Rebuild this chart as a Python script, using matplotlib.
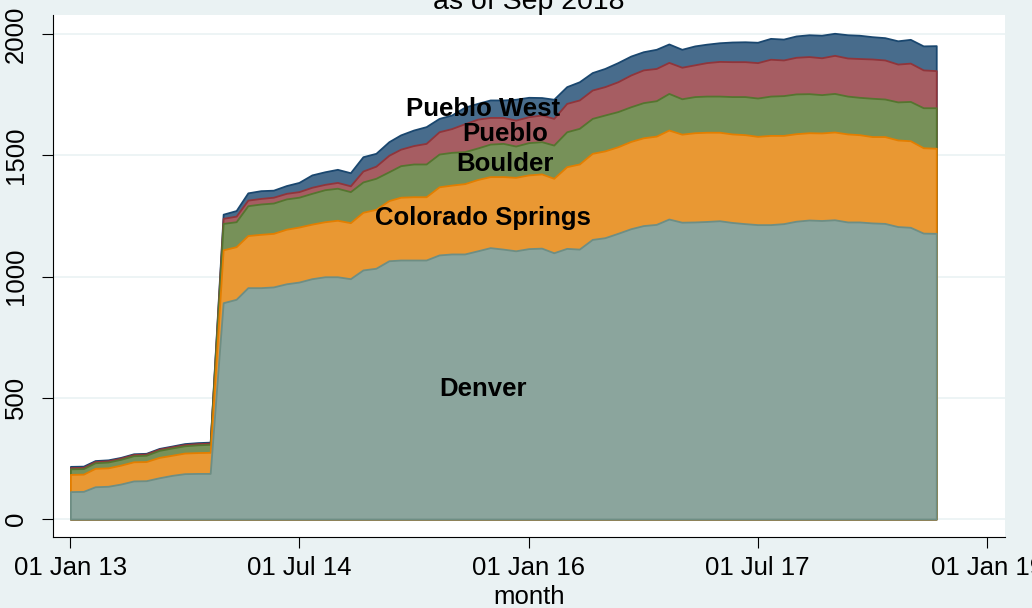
import numpy as np
import matplotlib
matplotlib.use("Agg")
import matplotlib.pyplot as plt
import matplotlib.dates as mdates
from datetime import datetime

# ---------------- data ----------------
start_year, start_month, n_months = 2013, 1, 69   # Jan 2013 .. Sep 2018
months = [datetime(start_year + (start_month - 1 + i) // 12, (start_month - 1 + i) % 12 + 1, 1)
          for i in range(n_months)]

denver = [113, 114, 133, 135, 144, 157, 158, 170, 180, 187, 188, 188,
          892, 906, 954, 954, 957, 970, 977, 991, 999, 999, 991, 1027,
          1034, 1065, 1068, 1068, 1068, 1089, 1093, 1093, 1106, 1119, 1113, 1106,
          1115, 1117, 1098, 1116, 1113, 1153, 1160, 1178, 1197, 1210, 1215, 1237,
          1224, 1225, 1227, 1230, 1223, 1218, 1214, 1214, 1218, 1228, 1233, 1231,
          1234, 1225, 1225, 1221, 1219, 1206, 1203, 1179, 1178]
colorado_springs = [71, 71, 76, 76, 78, 79, 79, 84, 83, 85, 86, 87,
                    218, 217, 215, 220, 221, 225, 227, 225, 227, 233, 231, 238,
                    243, 248, 259, 261, 261, 281, 284, 290, 294, 293, 299, 303,
                    304, 306, 307, 337, 351, 355, 358, 357, 360, 362, 364, 367,
                    363, 368, 368, 365, 365, 367, 364, 368, 364, 361, 360, 361,
                    362, 363, 360, 356, 358, 357, 357, 352, 351]
boulder = [23, 23, 23, 24, 24, 25, 26, 29, 30, 30, 32, 33,
           109, 103, 123, 125, 125, 125, 123, 127, 132, 132, 128, 125,
           128, 119, 130, 135, 135, 135, 135, 132, 130, 134, 137, 129,
           133, 133, 137, 144, 147, 144, 148, 145, 143, 145, 146, 151,
           146, 149, 149, 149, 154, 157, 158, 162, 164, 164, 161, 158,
           159, 156, 154, 158, 155, 157, 162, 165, 167]
pueblo = [5, 5, 5, 5, 5, 5, 5, 5, 5, 5, 5, 5,
          21, 23, 23, 23, 24, 23, 23, 25, 22, 24, 24, 45,
          50, 68, 68, 76, 85, 92, 98, 115, 119, 110, 107, 107,
          107, 110, 110, 117, 117, 117, 117, 123, 131, 135, 133, 128,
          130, 131, 138, 143, 144, 144, 146, 152, 147, 151, 153, 152,
          157, 157, 160, 162, 161, 156, 158, 156, 153]
pueblo_west = [5, 5, 4, 4, 3, 3, 3, 3, 3, 4, 4, 4,
               17, 23, 30, 32, 29, 32, 38, 51, 52, 54, 54, 59,
               53, 56, 59, 64, 69, 55, 56, 68, 65, 72, 72, 86,
               80, 72, 79, 69, 75, 72, 75, 79, 78, 75, 79, 76,
               74, 78, 76, 77, 81, 82, 84, 86, 86, 88, 90, 93,
               91, 96, 96, 92, 92, 96, 98, 99, 103]

series_names = ["Denver", "Colorado Springs", "Boulder", "Pueblo", "Pueblo West"]
series_values = [denver, colorado_springs, boulder, pueblo, pueblo_west]

# label anchors (date, value at baseline)
label_dates = [datetime(2015, 9, 14), datetime(2015, 9, 13), datetime(2015, 11, 6),
               datetime(2015, 11, 6), datetime(2015, 9, 14)]
label_values = [507, 1212, 1436, 1557, 1660]

tick_dates = [datetime(2013, 1, 1), datetime(2014, 7, 1), datetime(2016, 1, 1),
              datetime(2017, 7, 1), datetime(2019, 1, 1)]
tick_labels = ["01 Jan 13", "01 Jul 14", "01 Jan 16", "01 Jul 17", "01 Jan 19"]
y_ticks = [0, 500, 1000, 1500, 2000]
title_text = "as of Sep 2018"
x_label = "month"

# ---------------- style ----------------
fills = ["#8ba59d", "#e99833", "#779159", "#a65d62", "#486c8c"]
edges = ["#6e8e84", "#e37e00", "#55752f", "#90353b", "#1a476f"]
bg = "#eaf2f3"

plt.rcParams["font.family"] = ["Liberation Sans", "DejaVu Sans"]

W, H = 1032, 608
fig = plt.figure(figsize=(W / 100, H / 100), dpi=100, facecolor=bg)
ax_left, ax_right, ax_top, ax_bottom = 53, 1005, 15, 537
ax = fig.add_axes([ax_left / W, 1 - ax_bottom / H, (ax_right - ax_left) / W, (ax_bottom - ax_top) / H])
ax.set_facecolor("white")

x = mdates.date2num(months)
cum = np.cumsum(np.array(series_values, dtype=float), axis=0)

for i in range(len(series_names) - 1, -1, -1):
    ax.fill_between(x, 0, cum[i], facecolor=fills[i], edgecolor=edges[i],
                    linewidth=1.3, zorder=2 + (len(series_names) - i) * 0.1)

for name, d, v in zip(series_names, label_dates, label_values):
    ax.text(mdates.date2num(d), v, name, ha="center", va="baseline",
            fontsize=18.5, fontweight="bold", color="black", zorder=10)

x0 = mdates.date2num(datetime(2013, 1, 1))
ax.set_xlim(x0 - 41.6, x0 + 2233.3)
ax.set_ylim(-74.2, 2078.4)

ax.set_yticks(y_ticks)
ax.set_yticklabels([str(t) for t in y_ticks], rotation=90, va="center")
ax.set_xticks(mdates.date2num(tick_dates))
ax.set_xticklabels(tick_labels)
ax.tick_params(axis="both", length=8, width=0.8, color="black", labelsize=18.5)
ax.tick_params(axis="x", pad=6)
ax.tick_params(axis="y", pad=10)

ax.grid(axis="y", color=bg, linewidth=1.2, zorder=0)
ax.set_axisbelow(True)
for s in ["top", "right"]:
    ax.spines[s].set_visible(False)
for s in ["left", "bottom"]:
    ax.spines[s].set_linewidth(0.8)
    ax.spines[s].set_color("black")

ax.set_xlabel(x_label, fontsize=18.5, labelpad=3)
fig.text((ax_left + ax_right) / 2 / W, 1 - 9 / H, title_text, ha="center", va="baseline", fontsize=20.5)

fig.savefig("out.png", dpi=100, facecolor=bg)
